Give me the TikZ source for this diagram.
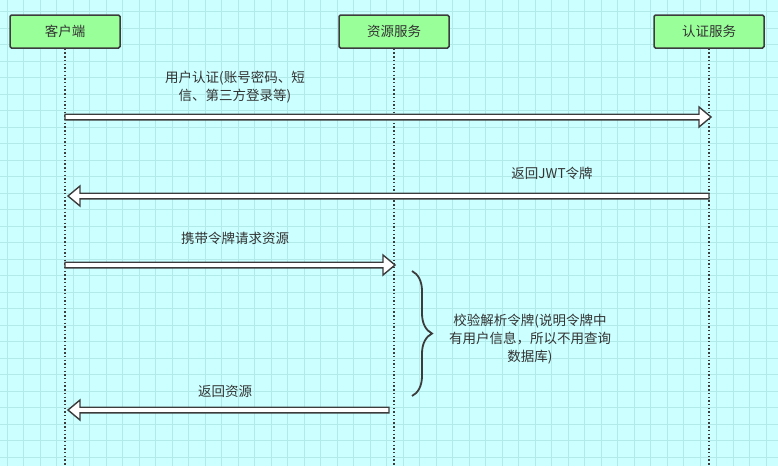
\documentclass[tikz,border=0pt]{standalone}
\usepackage{fontspec}
\setmainfont{Noto Sans CJK SC}
\usetikzlibrary{calc,decorations.pathreplacing}

\definecolor{bgcyan}{HTML}{CCFFFF}
\definecolor{gridcyan}{HTML}{B2EAEA}
\definecolor{boxgreen}{HTML}{99FF99}
\definecolor{linegray}{HTML}{3C3C3C}
\definecolor{textgray}{HTML}{333333}

\tikzset{
  actor/.style={rectangle, draw=linegray, line width=1.5pt, fill=boxgreen, rounded corners=1.5pt,
    minimum width=110pt, minimum height=33pt, text=textgray, font=\fontsize{13.5}{16}\selectfont},
  msg/.style={text=textgray, align=center, font=\fontsize{13.5}{18}\selectfont, inner sep=0pt},
  lifeline/.style={draw=linegray, line width=1.4pt, dash pattern=on 1.4pt off 2.3pt},
  fatarrow/.style={draw=linegray, fill=white, line width=1.4pt, line join=miter,
    to path={let \p1=(\tikztostart), \p2=(\tikztotarget), \n1={sign(\x2-\x1)} in
      (\x1,\y1+2.8pt) -- (\x2-\n1*12pt,\y1+2.8pt) -- (\x2-\n1*12pt,\y1+10pt) -- (\x2,\y1)
      -- (\x2-\n1*12pt,\y1-10pt) -- (\x2-\n1*12pt,\y1-2.8pt) -- (\x1,\y1-2.8pt) -- cycle}}
}

\begin{document}
\begin{tikzpicture}[x=1pt, y=-1pt]
    \fill[bgcyan] (0,0) rectangle (778,466);
    \useasboundingbox (0,0) rectangle (778,466);
    \foreach \gx in {7.2,23.7,...,778} \draw[gridcyan, line width=0.9pt] (\gx,0) -- (\gx,466);
    \foreach \gy in {11.5,28,...,466} \draw[gridcyan, line width=0.9pt] (0,\gy) -- (778,\gy);

    \node (client) [actor] at (65,31.5) {客户端};
    \node (resource) [actor] at (394,31.5) {资源服务};
    \node (auth) [actor] at (709,31.5) {认证服务};

    \coordinate (bottom) at (0,466);
    \draw[lifeline] (client.south) -- (client.south |- bottom);
    \draw[lifeline] (resource.south) -- (resource.south |- bottom);
    \draw[lifeline] (auth.south) -- (auth.south |- bottom);

    \coordinate (m1) at (0,117);
    \coordinate (m2) at (0,196);
    \coordinate (m3) at (0,265);
    \coordinate (m4) at (0,410);

    \draw[fatarrow] (client |- m1) to ([xshift=2pt]auth |- m1);
    \node (login) [msg] at (235,87) {用户认证(账号密码、短\\信、第三方登录等)};

    \draw[fatarrow] (auth |- m2) to ([xshift=3pt]client |- m2);
    \node (jwt) [msg] at (552,173) {返回JWT令牌};

    \draw[fatarrow] (client |- m3) to ([xshift=1pt]resource |- m3);
    \node (request) [msg] at (235,238) {携带令牌请求资源};

    \coordinate (bracetop) at (412,271);
    \coordinate (bracebot) at (412,396);
    \draw[linegray, line width=1.8pt, decorate, decoration={brace, amplitude=20pt, aspect=0.5}]
        (bracetop) -- (bracebot);
    \node (verify) [msg] at (530,339) {校验解析令牌(说明令牌中\\有用户信息，所以不用查询\\数据库)};

    \draw[fatarrow] ([xshift=-5pt]resource |- m4) to ([xshift=3pt]client |- m4);
    \node (result) [msg] at (225,391) {返回资源};
\end{tikzpicture}
\end{document}
